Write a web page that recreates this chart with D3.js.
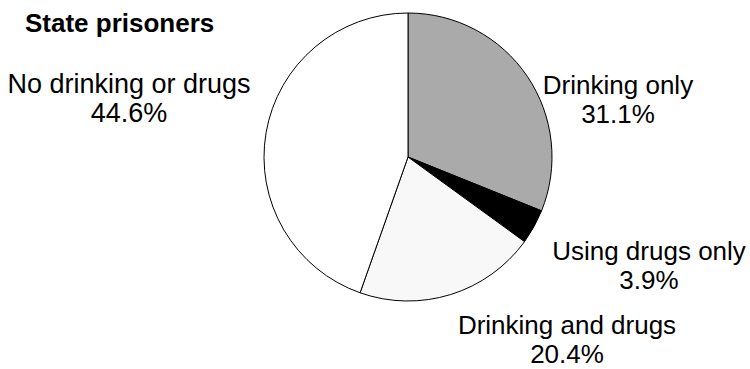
<!DOCTYPE html>
<html>
<head>
<meta charset="utf-8">
<script src="https://cdn.jsdelivr.net/npm/d3@7"></script>
<style>
  body { margin: 0; background: #fff; }
  text { font-family: "Liberation Sans", Arial, sans-serif; fill: #000; }
</style>
</head>
<body>
<script>
const categories = ["Drinking only", "Using drugs only", "Drinking and drugs", "No drinking or drugs"];
const shares = [31.1, 3.9, 20.4, 44.6];
const fills = ["#aaaaaa", "#000000", "#f8f8f8", "#ffffff"];
const title = "State prisoners";

const w = 750;
const h = 369;
const cx = 408, cy = 157, r = 144;

// where each label block is centred (x) and its first baseline (y)
const labelPos = [
  {x: 618, y: 94},
  {x: 649, y: 260},
  {x: 567, y: 334},
  {x: 129, y: 93}
];

const svg = d3.select("body")
  .append("svg")
  .attr("width", w)
  .attr("height", h);

const chart = svg.append("g")
  .attr("transform", "translate(" + cx + "," + cy + ")");

const pie = d3.pie().sort(null).value(d => d);
const arc = d3.arc().innerRadius(0).outerRadius(r);

chart.selectAll(".slice")
  .data(pie(shares))
  .enter()
  .append("path")
  .classed("slice", true)
  .attr("d", arc)
  .style("fill", (d, i) => fills[i])
  .style("stroke", "#000")
  .style("stroke-width", 1);

svg.append("text")
  .attr("x", 25)
  .attr("y", 32)
  .style("font-size", "26px")
  .style("font-weight", "bold")
  .text(title);

const labels = svg.selectAll(".label")
  .data(categories)
  .enter()
  .append("text")
  .classed("label", true)
  .attr("text-anchor", "middle")
  .style("font-size", (d, i) => i === 3 ? "27px" : "26px");

labels.append("tspan")
  .attr("x", (d, i) => labelPos[i].x)
  .attr("y", (d, i) => labelPos[i].y)
  .text(d => d);

labels.append("tspan")
  .attr("x", (d, i) => labelPos[i].x)
  .attr("y", (d, i) => labelPos[i].y + 29)
  .text((d, i) => d3.format(".1f")(shares[i]) + "%");
</script>
</body>
</html>
